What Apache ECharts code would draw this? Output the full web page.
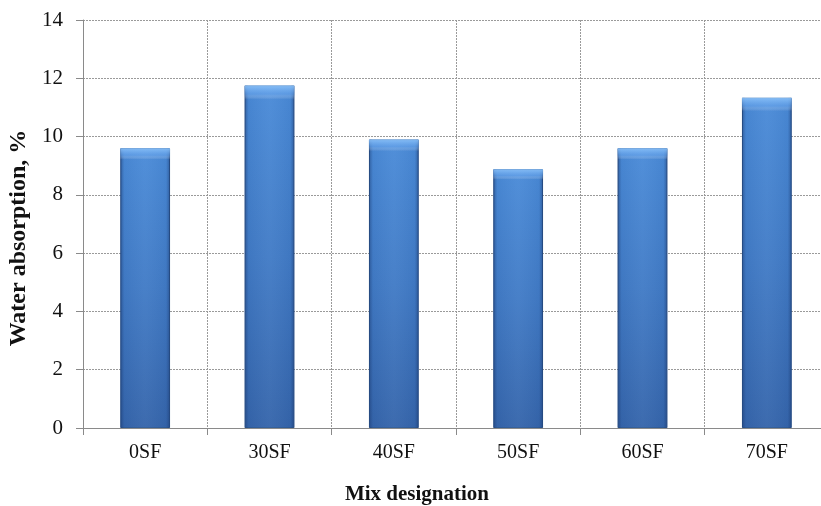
<!DOCTYPE html>
<html><head><meta charset="utf-8">
<script src="https://cdn.jsdelivr.net/npm/echarts@6/dist/echarts.min.js"></script>
<style>html,body{margin:0;padding:0;background:#fff}#c{width:821px;height:506px}</style>
</head><body><div id="c"></div>
<script>
const categories = ['0SF','30SF','40SF','50SF','60SF','70SF'];
const waterAbsorption = [9.60, 11.75, 9.90, 8.88, 9.60, 11.33];
const yTicks = {min: 0, max: 14, interval: 2};

const chart = echarts.init(document.getElementById('c'));
const font = '"Liberation Serif", "Times New Roman", serif';
chart.setOption({
  animation: false,
  grid: {left: 83, right: -8, top: 20, bottom: 78, containLabel: false, outerBoundsMode: 'none'},
  xAxis: {
    type: 'category', data: categories,
    name: 'Mix designation', nameLocation: 'middle', nameGap: 56,
    nameTextStyle: {fontFamily: font, fontSize: 21, fontWeight: 'bold', color: '#111', padding: [0, 78, 0, 0]},
    axisLine: {lineStyle: {color: '#8a8a8a'}},
    axisTick: {show: true, length: 7, lineStyle: {color: '#8a8a8a'}},
    axisLabel: {fontFamily: font, fontSize: 20, color: '#111', margin: 15},
    splitLine: {show: true, lineStyle: {color: '#9a9a9a', type: [2, 1], width: 1}}
  },
  yAxis: {
    type: 'value', min: yTicks.min, max: yTicks.max, interval: yTicks.interval,
    name: 'Water absorption, %', nameLocation: 'middle', nameGap: 47,
    nameTextStyle: {fontFamily: font, fontSize: 24, fontWeight: 'bold', color: '#111', padding: [0, 28, 0, 0]},
    axisLine: {show: true, lineStyle: {color: '#8a8a8a'}},
    axisTick: {show: true, length: 7, lineStyle: {color: '#8a8a8a'}},
    axisLabel: {fontFamily: font, fontSize: 21, color: '#111', margin: 20},
    splitLine: {show: true, lineStyle: {color: '#9a9a9a', type: [2, 1], width: 1}}
  },
  series: [{
    type: 'bar', data: waterAbsorption, barWidth: '40%',
    itemStyle: {
      color: new echarts.graphic.LinearGradient(0, 0, 0, 1, [
        {offset: 0, color: '#4a8bd8'},
        {offset: 0.5, color: '#417bc6'},
        {offset: 1, color: '#3565ab'}
      ]),
      borderColor: '#2f5c98', borderWidth: 1
    }
  }, {
    type: 'bar', data: waterAbsorption, barWidth: '40%', barGap: '-100%', silent: true,
    itemStyle: {
      color: new echarts.graphic.LinearGradient(0, 0, 1, 0, [
        {offset: 0, color: 'rgba(20,45,95,0.45)'},
        {offset: 0.08, color: 'rgba(20,45,95,0.05)'},
        {offset: 0.5, color: 'rgba(255,255,255,0.04)'},
        {offset: 0.92, color: 'rgba(20,45,95,0.05)'},
        {offset: 1, color: 'rgba(20,45,95,0.45)'}
      ])
    }
  }, {
    type: 'bar', data: waterAbsorption, barWidth: '40%', barGap: '-100%', silent: true,
    itemStyle: {
      color: new echarts.graphic.LinearGradient(0, 0, 0, 1, [
        {offset: 0, color: 'rgba(140,195,250,0.9)'},
        {offset: 0.025, color: 'rgba(110,170,240,0.5)'},
        {offset: 0.04, color: 'rgba(255,255,255,0)'},
        {offset: 1, color: 'rgba(255,255,255,0)'}
      ])
    }
  }]
});
</script></body></html>
